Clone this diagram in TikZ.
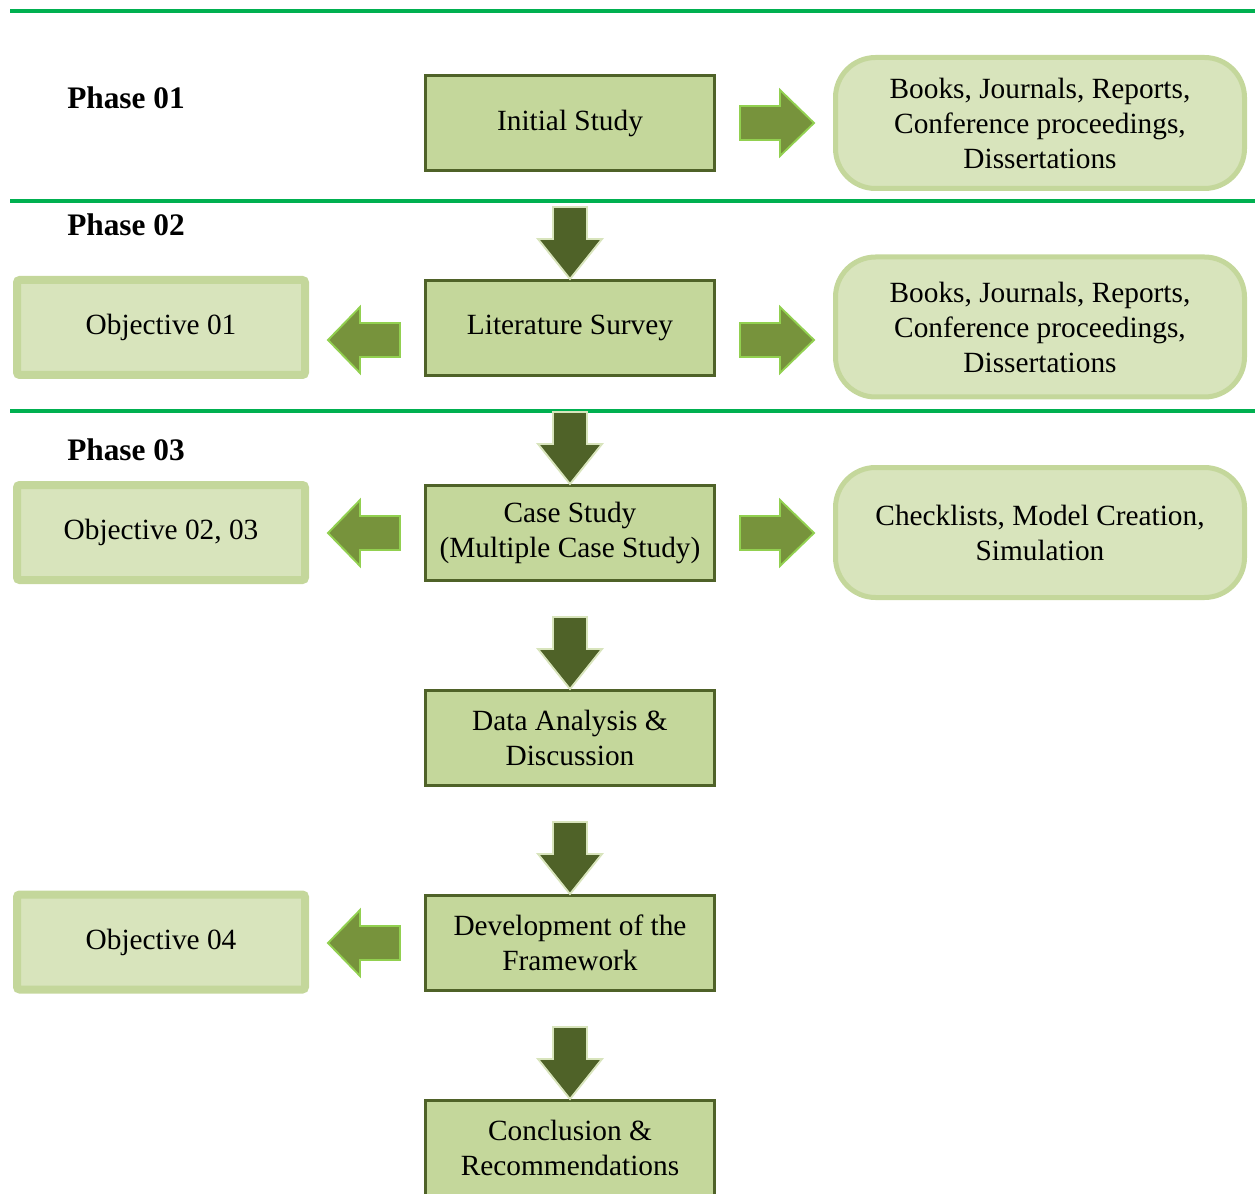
\documentclass[tikz,border=0pt]{standalone}
\usepackage{fontspec}
\setmainfont{Liberation Serif}
\usetikzlibrary{calc}

\definecolor{rulegreen}{HTML}{00B050}
\definecolor{stepfill}{HTML}{C4D79B}
\definecolor{stepline}{HTML}{4F6228}
\definecolor{softfill}{HTML}{D8E4BC}
\definecolor{softline}{HTML}{C4D79B}
\definecolor{sidefill}{HTML}{77933C}
\definecolor{sideline}{HTML}{92D050}

\tikzset{
  phaserule/.style={draw=rulegreen, line width=2.6pt},
  phaselabel/.style={inner sep=0pt, anchor=west, font=\fontsize{23.5}{28}\selectfont\bfseries},
  bodytext/.style={align=center, inner sep=0pt, font=\fontsize{22}{26.25}\selectfont},
  stepbox/.style={bodytext, draw=stepline, fill=stepfill, line width=2.6pt,
    minimum width=216.4pt, minimum height=70.9pt},
  objbox/.style={bodytext, draw=softline, fill=softfill, line width=6pt,
    rounded corners=2pt, minimum width=216pt, minimum height=71.25pt},
  srcbox/.style={bodytext, draw=softline, fill=softfill, line width=3.75pt,
    rounded corners=30pt, minimum width=306.75pt},
  % block arrow pointing down, origin at the tip
  downarr/.pic={
    \filldraw[fill=stepline, draw=softfill, line width=1.4pt, line join=miter]
      (-17,-72) -- (17,-72) -- (17,-40) -- (32,-40) -- (0,0)
      -- (-32,-40) -- (-17,-40) -- cycle;},
  % block arrow pointing right, origin at the middle of the tail
  rarr/.pic={
    \filldraw[fill=sidefill, draw=sideline, line width=1.4pt, line join=miter]
      (0,-17) -- (40,-17) -- (40,-33) -- (74,0) -- (40,33) -- (40,17)
      -- (0,17) -- cycle;},
  % block arrow pointing left, origin at the middle of the tail
  larr/.pic={
    \filldraw[fill=sidefill, draw=sideline, line width=1.4pt, line join=miter]
      (0,-17) -- (-40,-17) -- (-40,-33) -- (-72,0) -- (-40,33) -- (-40,17)
      -- (0,17) -- cycle;},
}

\begin{document}
\begin{tikzpicture}[x=0.75pt, y=-0.75pt]
  \useasboundingbox (0,0) rectangle (1260,1194);

  % phase separators
  \draw[phaserule] (10,11) -- (1255,11);
  \draw[phaserule] (10,201) -- (1255,201);
  \draw[phaserule] (10,411) -- (1255,411);

  % phase titles
  \node[phaselabel] (ph1) at (67,98) {Phase 01};
  \node[phaselabel] (ph2) at (67,225) {Phase 02};
  \node[phaselabel] (ph3) at (67,450) {Phase 03};

  % main sequence of steps
  \node[stepbox] (init) at (570,123)  {Initial Study};
  \node[stepbox] (lit)  at (570,328)  {Literature Survey};
  \node[stepbox] (case) at (570,533)  {Case Study\\(Multiple Case Study)};
  \node[stepbox] (data) at (570,738)  {Data Analysis \&\\Discussion};
  \node[stepbox] (dev)  at (570,943)  {Development of the\\Framework};
  \node[stepbox] (conc) at (570,1148) {Conclusion \&\\Recommendations};

  % objectives
  \node[objbox] (obj1) at (161,327.5) {Objective 01};
  \node[objbox] (obj2) at (161,532.5) {Objective 02, 03};
  \node[objbox] (obj4) at (161,942)   {Objective 04};

  % sources and methods
  \node[srcbox, minimum height=98.25pt] (src1) at (1040,123)
    {Books, Journals, Reports,\\Conference proceedings,\\Dissertations};
  \node[srcbox, minimum height=105pt] (src2) at (1040,327)
    {Books, Journals, Reports,\\Conference proceedings,\\Dissertations};
  \node[srcbox, minimum height=97.5pt] (src3) at (1040,532.5)
    {Checklists, Model Creation,\\Simulation};

  % flow between steps
  \pic at (lit.north)  {downarr};
  \pic at (case.north) {downarr};
  \pic at (data.north) {downarr};
  \pic at (dev.north)  {downarr};
  \pic at (conc.north) {downarr};

  % links to sources
  \pic at ($(init.east)+(24,0)$)  {rarr};
  \pic at ($(lit.east)+(24,12)$)  {rarr};
  \pic at ($(case.east)+(24,0)$)  {rarr};

  % links to objectives
  \pic at ($(lit.west)+(-24,12)$) {larr};
  \pic at ($(case.west)+(-24,0)$) {larr};
  \pic at ($(dev.west)+(-24,0)$)  {larr};
\end{tikzpicture}
\end{document}
